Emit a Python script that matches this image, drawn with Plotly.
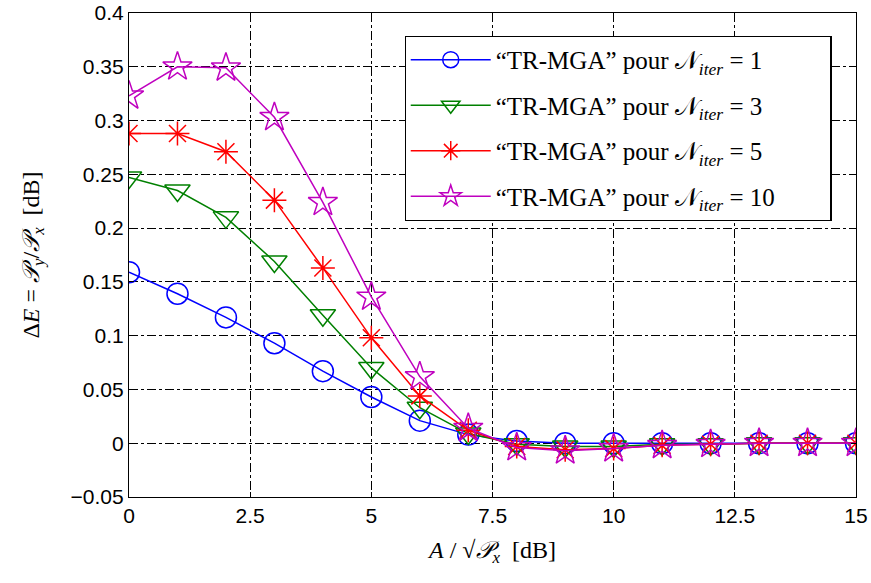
import plotly.graph_objects as go

x = list(range(0, 16))
y_n1 = [0.159, 0.139, 0.117, 0.093, 0.067, 0.043, 0.021, 0.008, 0.002, 0.000, 0.000, 0.000, 0.000, 0.000, 0.000, 0.000]
y_n3 = [0.247, 0.235, 0.210, 0.169, 0.119, 0.070, 0.033, 0.009, -0.001, -0.003, -0.003, -0.001, -0.001, 0.000, 0.000, 0.000]
y_n5 = [0.288, 0.288, 0.271, 0.226, 0.163, 0.098, 0.044, 0.012, -0.003, -0.006, -0.005, -0.002, -0.001, 0.000, 0.000, 0.000]
y_n10 = [0.323, 0.350, 0.349, 0.303, 0.224, 0.136, 0.062, 0.014, -0.004, -0.007, -0.005, -0.002, -0.001, 0.000, 0.000, 0.000]

names = ["“TR-MGA” pour 𝒩<sub><i>iter</i></sub> = 1",
         "“TR-MGA” pour 𝒩<sub><i>iter</i></sub> = 3",
         "“TR-MGA” pour 𝒩<sub><i>iter</i></sub> = 5",
         "“TR-MGA” pour 𝒩<sub><i>iter</i></sub> = 10"]
xtick_vals = [0, 2.5, 5, 7.5, 10, 12.5, 15]
xtick_text = ["0", "2.5", "5", "7.5", "10", "12.5", "15"]
ytick_vals = [-0.05, 0, 0.05, 0.1, 0.15, 0.2, 0.25, 0.3, 0.35, 0.4]
ytick_text = ["−0.05", "0", "0.05", "0.1", "0.15", "0.2", "0.25", "0.3", "0.35", "0.4"]

series = [
    (y_n1, "#0000ff", "circle-open", 21),
    (y_n3, "#008000", "triangle-down-open", 22),
    (y_n5, "#ff0000", "asterisk-open", 20),
    (y_n10, "#bf00bf", "star-open", 22),
]

pad = "\u00a0" * 8

fig = go.Figure()
for i, ((ys, col, sym, sz), nm) in enumerate(zip(series, names)):
    fig.add_trace(go.Scatter(
        x=x, y=ys, mode="lines+markers", name=nm + pad, legendgroup="g%d" % i,
        line=dict(color=col, width=1.5),
        marker=dict(symbol=sym, size=sz, color=col, line=dict(color=col, width=1.5)),
    ))

axis_common = dict(
    showline=True, linecolor="black", linewidth=1.2, mirror="ticks",
    ticks="inside", ticklen=5, tickcolor="black",
    showgrid=True, gridcolor="black", gridwidth=0.8, griddash="dashdot",
    zeroline=False, automargin=False,
    tickfont=dict(family="Liberation Sans, Arial", size=21, color="black"),
)

fig.update_xaxes(range=[0, 15], tickvals=xtick_vals, ticktext=xtick_text,
                 title=dict(text="<i>A</i> / √<i>𝒫<sub>x</sub></i>  [dB]",
                            font=dict(family="Liberation Serif, DejaVu Serif", size=24, color="black"),
                            standoff=14),
                 **axis_common)
fig.update_yaxes(range=[-0.05, 0.4], tickvals=ytick_vals, ticktext=ytick_text,
                 title=dict(text="Δ<i>E</i> = <i>𝒫<sub>y</sub></i>/<i>𝒫<sub>x</sub></i>  [dB]",
                            font=dict(family="Liberation Serif, DejaVu Serif", size=24, color="black"),
                            standoff=24),
                 **axis_common)

fig.update_layout(
    width=871, height=583,
    margin=dict(l=129, r=15, t=13, b=86),
    plot_bgcolor="white", paper_bgcolor="white",
    legend=dict(x=0.379, y=0.953, xanchor="left", yanchor="top",
                bgcolor="white", bordercolor="black", borderwidth=1.2,
                font=dict(family="Liberation Serif, DejaVu Serif", size=25, color="black"),
                itemwidth=80, tracegroupgap=10),
    showlegend=True,
)

fig.write_html("out.html", config={"displayModeBar": False},
               post_script="document.body.style.margin='0';document.body.style.overflow='hidden';")
